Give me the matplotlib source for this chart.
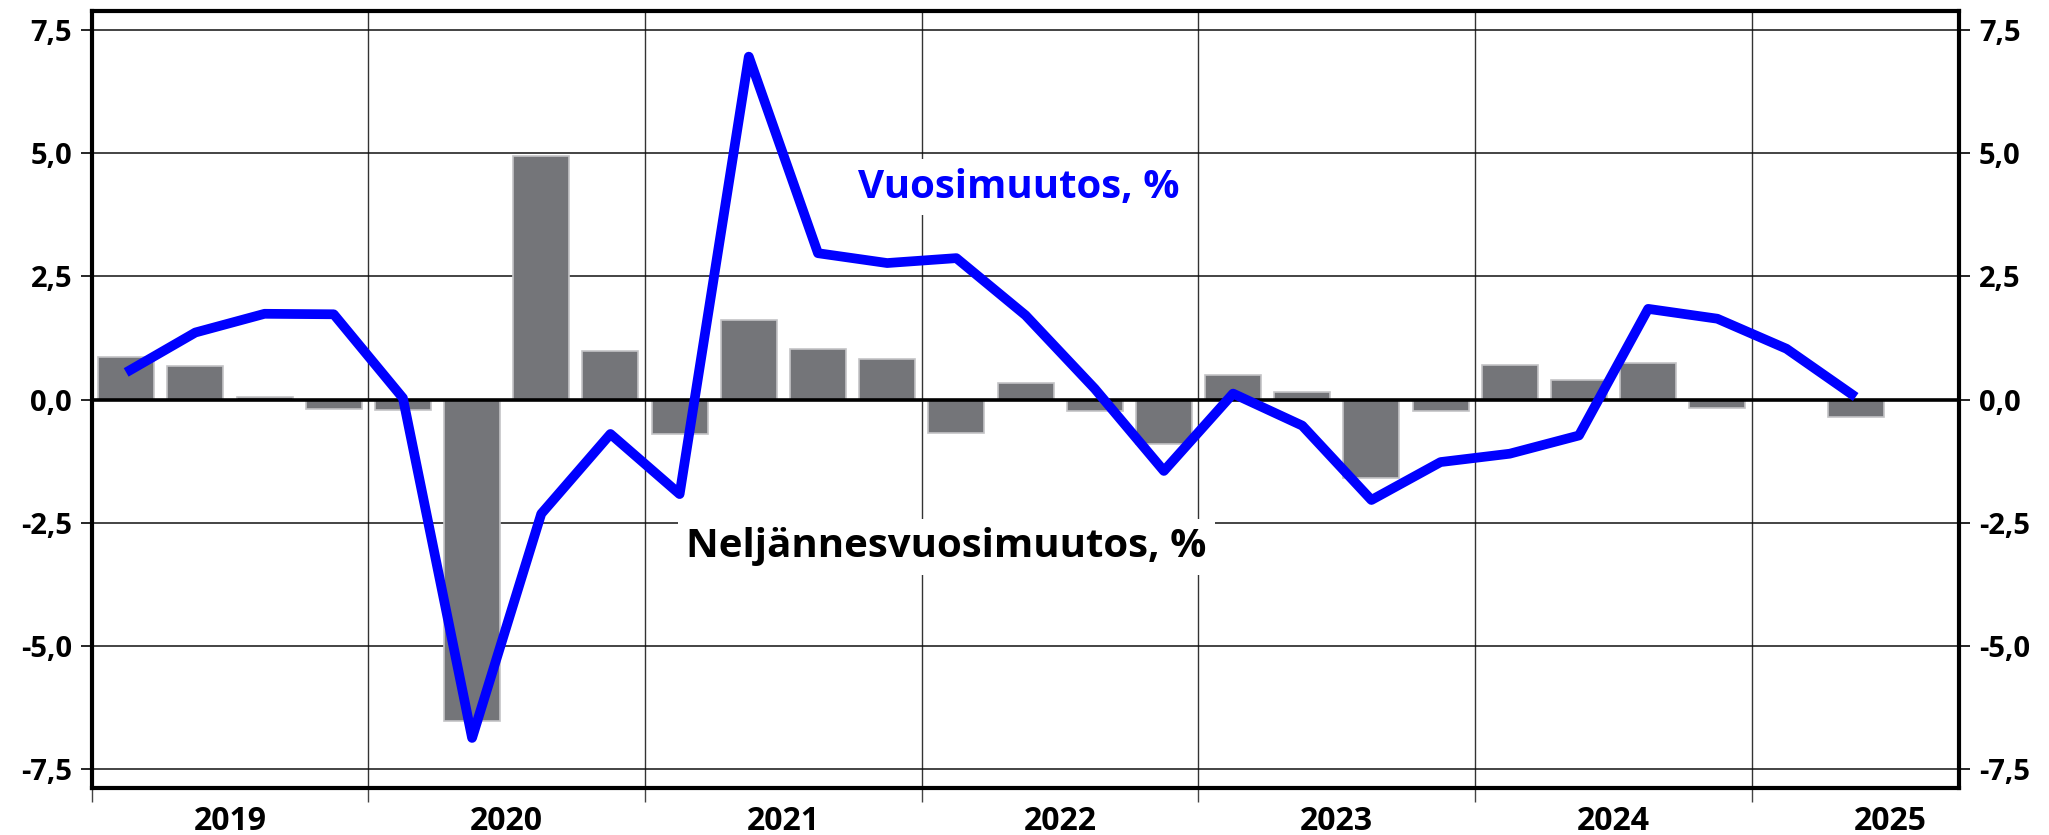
import matplotlib
matplotlib.use("Agg")
import matplotlib.pyplot as plt
from matplotlib.ticker import FixedLocator, FuncFormatter
import numpy as np

plt.rcParams['font.family'] = ['Open Sans', 'DejaVu Sans']
plt.rcParams['font.weight'] = 'bold'

# neljännekset 2019Q1 ... 2025Q3
years = ['2019', '2020', '2021', '2022', '2023', '2024', '2025']
n_quarters = 27

# neljännesvuosimuutos, % (pylväät)
qoq = [0.86, 0.69, 0.05, -0.19,
       -0.21, -6.52, 4.94, 0.98,
       -0.71, 1.61, 1.02, 0.83,
       -0.68, 0.34, -0.24, -0.90,
       0.49, 0.16, -1.59, -0.24,
       0.71, 0.40, 0.75, -0.17,
       -0.02, -0.36]

# vuosimuutos, % (viiva)
yoy = [0.55, 1.36, 1.74, 1.73,
       0.03, -6.87, -2.32, -0.70,
       -1.92, 6.96, 2.97, 2.77,
       2.87, 1.71, 0.22, -1.45,
       0.12, -0.53, -2.04, -1.27,
       -1.10, -0.73, 1.84, 1.64,
       1.03, 0.05]

fig = plt.figure(figsize=(20.49, 8.35), dpi=100)
ax = fig.add_axes([0.0447, 0.0563, 0.9116, 0.9305])

x_bar = np.arange(len(qoq))
x_line = np.arange(len(yoy))

ax.bar(x_bar, qoq, width=0.81, color='#747579', edgecolor='#c4c4c6',
       linewidth=1.2, zorder=2)
ax.axhline(0, color='black', linewidth=2.6, zorder=3)
ax.plot(x_line, yoy, color='#0000ff', linewidth=7, solid_joinstyle='round',
        solid_capstyle='butt', zorder=4)

# akselit
ax.set_xlim(-0.5, n_quarters - 0.5)
ax.set_ylim(-7.886, 7.886)

ax.yaxis.set_major_locator(FixedLocator([-7.5, -5, -2.5, 0, 2.5, 5, 7.5]))
ax.yaxis.set_major_formatter(FuncFormatter(lambda v, p: f'{v:.1f}'.replace('.', ',')))
ax.tick_params(axis='y', which='major', direction='out', length=8, width=1.2,
               pad=6, labelsize=21, left=True, right=True,
               labelleft=True, labelright=True)

bounds = [4 * i - 0.5 for i in range(len(years))]
ax.xaxis.set_major_locator(FixedLocator(bounds))
ax.xaxis.set_major_formatter(FuncFormatter(lambda v, p: ''))
ax.xaxis.set_minor_locator(FixedLocator([4 * i + 1.5 for i in range(len(years))]))
ax.xaxis.set_minor_formatter(FuncFormatter(lambda v, p: years[int(round((v - 1.5) / 4))]))
ax.tick_params(axis='x', which='major', direction='out', length=10, width=1.0,
               color='#444444')
ax.tick_params(axis='x', which='minor', length=0, pad=12, labelsize=23)

ax.grid(True, axis='y', which='major', color='#111111', linewidth=1.1, zorder=0)
ax.grid(True, axis='x', which='major', color='#333333', linewidth=1.0, zorder=0)
ax.set_axisbelow(True)

for s in ax.spines.values():
    s.set_linewidth(3)
    s.set_color('black')

for lab in ax.get_yticklabels() + ax.get_xticklabels(minor=True):
    lab.set_fontweight('bold')

ax.text(12.9, 4.31, 'Vuosimuutos, %', color='#0000ff', fontsize=29,
        fontweight='bold', ha='center', va='center', zorder=5,
        bbox=dict(facecolor='white', edgecolor='none', pad=6))
ax.text(11.86, -2.99, 'Neljännesvuosimuutos, %', color='black', fontsize=29,
        fontweight='bold', ha='center', va='center', zorder=5,
        bbox=dict(facecolor='white', edgecolor='none', pad=6))

fig.savefig('out.png', dpi=100)
